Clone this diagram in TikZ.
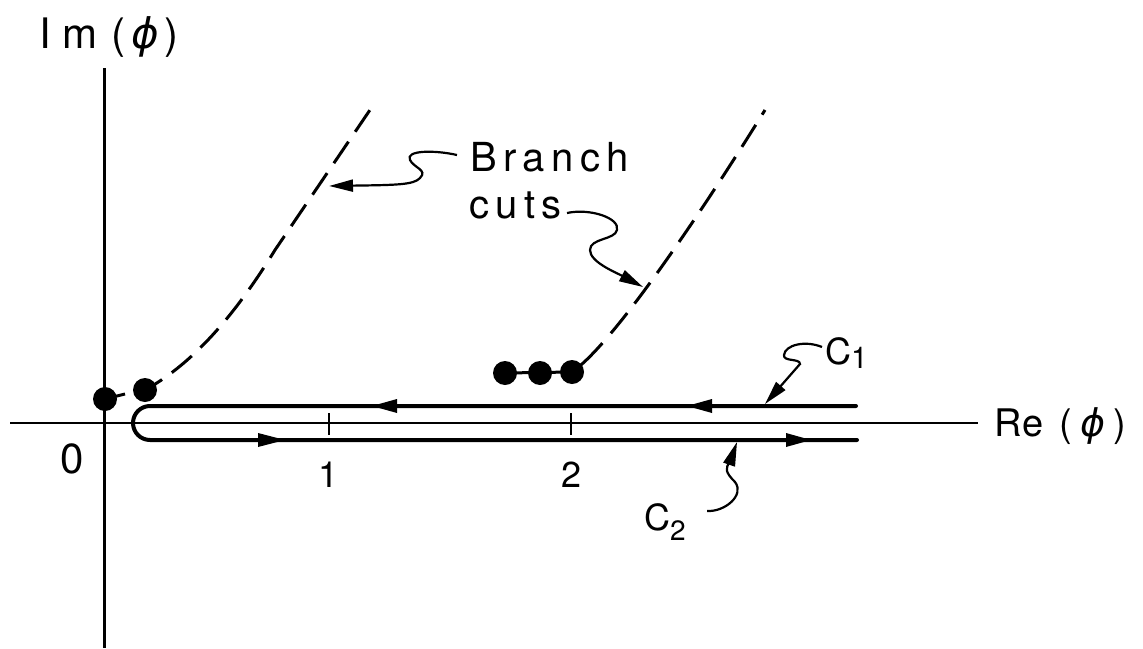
\documentclass[tikz,border=0pt]{standalone}
\usepackage{fontspec}
\setmainfont{TeX Gyre Heros}
\newfontfamily\spaced{TeX Gyre Heros}[LetterSpace=16]
\newfontfamily\phifont{DejaVu Sans}
\newcommand{\myphi}{{\phifont\itshape ϕ}}
\usetikzlibrary{arrows.meta}
\begin{document}
\begin{tikzpicture}[x=1pt,y=-1pt,
  axis/.style={line width=2.5pt},
  contour/.style={line width=4pt, line cap=round},
  cutone/.style={line width=3pt, dash pattern=on 26pt off 12pt, dash phase=6pt},
  cuttwo/.style={line width=3pt, dash pattern=on 42pt off 13pt on 26pt off 12pt on 26pt off 12pt on 26pt off 12pt on 26pt off 12pt on 26pt off 12pt on 26pt off 12pt on 26pt off 12pt on 26pt off 12pt on 26pt off 12pt},
  pointer/.style={line width=2.2pt, -{Triangle[length=24pt,width=12pt]}},
  pole/.style={circle, fill=black, minimum size=24pt, inner sep=0pt},
  lab/.style={inner sep=0pt, font=\spaced\fontsize{40}{44}\selectfont},
  num/.style={inner sep=0pt, font=\fontsize{36}{40}\selectfont},
]
\useasboundingbox (0,0) rectangle (1143,648);
% axes
\coordinate (xl) at (10,423);
\coordinate (xr) at (978,423);
\coordinate (yt) at (104.5,68);
\coordinate (yb) at (104.5,648);
\draw[axis] (xl) -- (xr);
\draw[axis] (yt) -- (yb);
\coordinate (t1a) at (329,413); \coordinate (t1b) at (329,435);
\coordinate (t2a) at (571,413); \coordinate (t2b) at (571,435);
\draw[axis] (t1a) -- (t1b);
\draw[axis] (t2a) -- (t2b);
% contour
\coordinate (ctop) at (856,406);
\coordinate (cbot) at (857,440);
\draw[contour] (ctop) -- (150,406) arc[start angle=270, end angle=90, radius=17] -- (cbot);
\fill (372,406) -- (397,399) -- (397,413) -- cycle;
\fill (687,406) -- (712,399) -- (712,413) -- cycle;
\fill (285,440) -- (258,433) -- (258,447) -- cycle;
\fill (811,440) -- (786,433) -- (786,447) -- cycle;
% pole positions
\coordinate (a0) at (105,399);
\coordinate (a1) at (145,390);
\coordinate (b1) at (505,373);
\coordinate (b2) at (540,373);
\coordinate (b3) at (572,372);
\coordinate (e1) at (374,104);
\coordinate (e2) at (765,110);
\draw[line width=3pt] (a0) -- (125,394);
\draw[cutone] (a1) .. controls (200,360) and (243,302) .. (275,250) -- (e1);
\draw[line width=3pt] (b1) -- (b3);
\draw[cuttwo] (b3) .. controls (612,345) and (700,215) .. (e2);
\node[pole] (p0) at (a0) {};
\node[pole] (p1) at (a1) {};
\node[pole] (q1) at (b1) {};
\node[pole] (q2) at (b2) {};
\node[pole] (q3) at (b3) {};
% labels
\node[inner sep=0pt, anchor=base west, font=\fontsize{42}{46}\selectfont] (im) at (39,48)
  {I\kern12pt m\kern14pt(\kern6pt\myphi\kern5pt)};
\node[inner sep=0pt, anchor=base west, font=\fontsize{38}{42}\selectfont] (re) at (994,436)
  {R\kern1pt e\kern16pt(\kern8pt\myphi\kern8pt)};
\node[inner sep=0pt, anchor=base, font=\fontsize{42}{46}\selectfont] (n0) at (72,473) {0};
\node[num, anchor=base] (n1) at (329,487) {1};
\node[num, anchor=base] (n2) at (572,487) {2};
\node[lab, anchor=base west] (branch) at (470,171) {Branch};
\node[lab, anchor=base west] (cuts) at (469,218) {cuts};
\node[num, anchor=base west] (c1) at (825,364) {C\raisebox{-4pt}{\fontsize{30}{30}\selectfont 1}};
\node[num, anchor=base west] (c2) at (644,530) {C\raisebox{-10pt}{\fontsize{28}{28}\selectfont 2}};
% pointers
\coordinate (bs) at (457,155);
\coordinate (bt) at (329,186);
\draw[pointer] (bs) .. controls (435,150) and (405,150) .. (410,160)
  .. controls (414,168) and (428,170) .. (420,178)
  .. controls (414,185) and (395,185) .. (bt);
\coordinate (cs) at (567,213);
\coordinate (ct) at (643,287);
\draw[pointer] (cs) .. controls (590,208) and (620,218) .. (617,230)
  .. controls (615,240) and (590,238) .. (590,250)
  .. controls (590,262) and (615,272) .. (ct);
\coordinate (c1s) at (822,347);
\coordinate (c1t) at (765,404);
\draw[pointer] (c1s) .. controls (805,340) and (785,345) .. (784,355)
  .. controls (783,362) and (800,358) .. (800,364) -- (c1t);
\coordinate (c2s) at (707,511);
\coordinate (c2t) at (737,442);
\draw[pointer] (c2s) .. controls (725,512) and (745,495) .. (735,482)
  .. controls (725,472) and (725,468) .. (730,462) -- (c2t);
\end{tikzpicture}
\end{document}
